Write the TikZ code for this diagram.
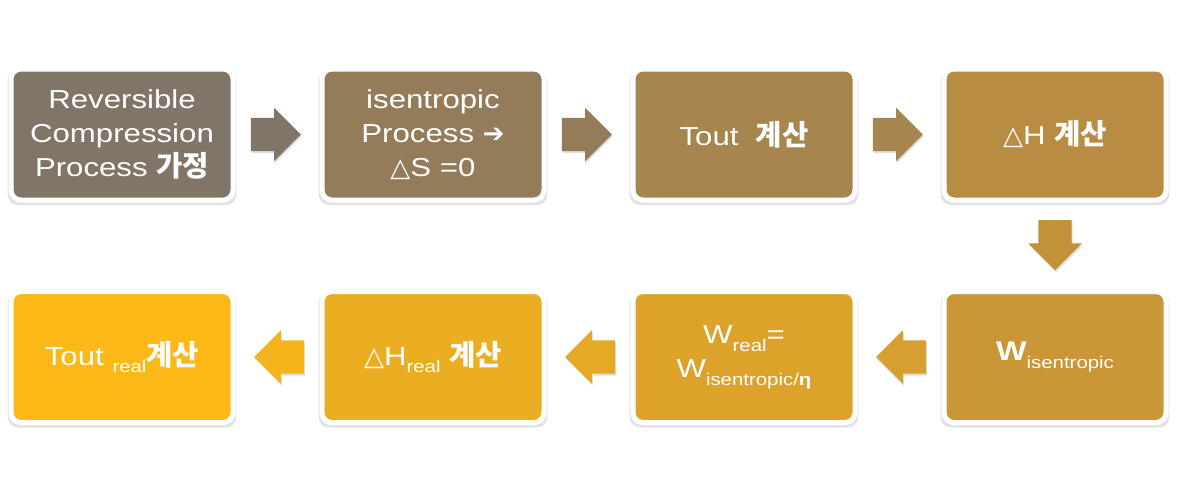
\documentclass[tikz,border=0pt]{standalone}
\usepackage{fontspec}
\setmainfont[FakeStretch=1.2]{Liberation Sans}
\newfontfamily\kr[Scale=1.1]{Noto Sans CJK KR}
\newfontfamily\sym{DejaVu Sans}
\usetikzlibrary{shapes.arrows,shadows,calc}

\definecolor{boxA}{HTML}{807566}
\definecolor{boxB}{HTML}{947B59}
\definecolor{boxC}{HTML}{A6854F}
\definecolor{boxD}{HTML}{B98C43}
\definecolor{boxE}{HTML}{CB9636}
\definecolor{boxF}{HTML}{DCA22A}
\definecolor{boxG}{HTML}{EBAE22}
\definecolor{boxH}{HTML}{FBB817}

\newcommand{\kor}[1]{{\kr\bfseries #1}}
\newcommand{\low}[1]{\raisebox{-0.3em}{\fontsize{17}{17}\selectfont #1}}

\tikzset{
  stepbox/.style={rectangle, rounded corners=10pt, draw=white, line width=5pt,
    minimum width=222pt, minimum height=131pt, text=white, align=center,
    font=\fontsize{26}{34}\selectfont,
    drop shadow={shadow xshift=0pt, shadow yshift=-3pt, shadow scale=1.03, opacity=0.22}},
  blockarrow/.style={single arrow, minimum height=50pt, minimum width=53pt,
    single arrow head extend=10pt, inner sep=16.5pt,
    drop shadow={shadow xshift=1pt, shadow yshift=-2pt, opacity=0.25}},
  toright/.style={blockarrow, xshift=-10pt},
  toleft/.style={blockarrow, shape border rotate=180, xshift=10pt},
  todown/.style={blockarrow, shape border rotate=270, yshift=9pt}
}

\begin{document}
\begin{tikzpicture}[x=1pt,y=-1pt]
    \useasboundingbox (0,0) rectangle (1177,491);

    % Boxes, top row
    \node[stepbox, fill=boxA] (rev) at (122,134.5) {Reversible\\Compression\\Process \kor{가정}};
    \node[stepbox, fill=boxB] (isen) at (433,134.5) {isentropic\\Process {\sym\bfseries ➔}\\{\sym △}S =0};
    \node[stepbox, fill=boxC] (tout) at (744,134.5) {Tout\ \ \kor{계산}};
    \node[stepbox, fill=boxD] (dh) at (1055,134.5) {{\sym △}H \kor{계산}};

    % Boxes, bottom row
    \node[stepbox, fill=boxE] (wis) at (1055,357) {{\fontsize{27}{30}\selectfont\bfseries W}\low{isentropic}};
    \node[stepbox, fill=boxF] (wreal) at (744,357) {W\low{real}=\\W\low{isentropic/\textbf{η}}};
    \node[stepbox, fill=boxG] (dhreal) at (433,357) {{\sym △}H\low{real} \kor{계산}};
    \node[stepbox, fill=boxH] (toutreal) at (122,357) {Tout \low{real}\kor{계산}};

    % Arrows
    \node[toright, fill=boxA] (a1) at ($(rev)!0.5!(isen)$) {};
    \node[toright, fill=boxB] (a2) at ($(isen)!0.5!(tout)$) {};
    \node[toright, fill=boxC] (a3) at ($(tout)!0.5!(dh)$) {};
    \node[todown, fill={rgb,255:red,194;green,145;blue,58}] (a4) at ($(dh)!0.5!(wis)$) {};
    \node[toleft, fill={rgb,255:red,214;green,160;blue,48}] (a5) at ($(wis)!0.5!(wreal)$) {};
    \node[toleft, fill={rgb,255:red,230;green,169;blue,38}] (a6) at ($(wreal)!0.5!(dhreal)$) {};
    \node[toleft, fill={rgb,255:red,245;green,180;blue,28}] (a7) at ($(dhreal)!0.5!(toutreal)$) {};
\end{tikzpicture}
\end{document}
